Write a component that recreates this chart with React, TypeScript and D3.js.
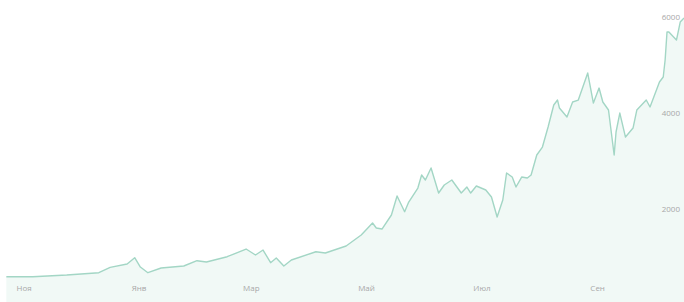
import React, { useRef, useEffect } from 'react';
import * as d3 from 'd3';

const dates: string[] = [
  '2016-10-29', '2016-11-12', '2016-11-30', '2016-12-17', '2016-12-23', '2017-01-01',
  '2017-01-05', '2017-01-08', '2017-01-12', '2017-01-19', '2017-01-31', '2017-02-07',
  '2017-02-12', '2017-02-23', '2017-03-05', '2017-03-10', '2017-03-14', '2017-03-18',
  '2017-03-21', '2017-03-25', '2017-03-29', '2017-04-11', '2017-04-16', '2017-04-27',
  '2017-05-05', '2017-05-11', '2017-05-13', '2017-05-16', '2017-05-21', '2017-05-24',
  '2017-05-28', '2017-05-30', '2017-06-04', '2017-06-06', '2017-06-08', '2017-06-11',
  '2017-06-15', '2017-06-18', '2017-06-22', '2017-06-27', '2017-06-30', '2017-07-02',
  '2017-07-05', '2017-07-10', '2017-07-13', '2017-07-16', '2017-07-19', '2017-07-21',
  '2017-07-24', '2017-07-26', '2017-07-29', '2017-08-01', '2017-08-03', '2017-08-06',
  '2017-08-09', '2017-08-12', '2017-08-15', '2017-08-17', '2017-08-18', '2017-08-22',
  '2017-08-25', '2017-08-28', '2017-09-02', '2017-09-05', '2017-09-08', '2017-09-10',
  '2017-09-13', '2017-09-16', '2017-09-17', '2017-09-19', '2017-09-22', '2017-09-26',
  '2017-09-28', '2017-10-03', '2017-10-05', '2017-10-10', '2017-10-12', '2017-10-13',
  '2017-10-14', '2017-10-15', '2017-10-19', '2017-10-21', '2017-10-23',
];

const prices: number[] = [
  590, 590, 625, 673, 785, 854,
  985, 791, 673, 771, 812, 923,
  896, 1006, 1166, 1041, 1145, 881,
  979, 812, 937, 1110, 1083, 1229,
  1458, 1708, 1604, 1583, 1875, 2270,
  1944, 2131, 2437, 2708, 2604, 2854,
  2333, 2500, 2604, 2333, 2458, 2333,
  2479, 2396, 2250, 1833, 2187, 2750,
  2666, 2458, 2666, 2646, 2708, 3125,
  3291, 3708, 4166, 4270, 4104, 3916,
  4229, 4270, 4833, 4208, 4520, 4229,
  4062, 3125, 3604, 3999, 3499, 3687,
  4062, 4270, 4125, 4645, 4750, 5104,
  5687, 5687, 5520, 5895, 5978,
];

const xTickDates: string[] = ['2016-11-01', '2017-01-01', '2017-03-01', '2017-05-01', '2017-07-01', '2017-09-01'];
const xTickLabels: string[] = ['Ноя', 'Янв', 'Мар', 'Май', 'Июл', 'Сен'];
const yTicks: number[] = [2000, 4000, 6000];

interface Point {
  date: Date;
  price: number;
}

const App: React.FC = () => {
  const svgRef = useRef<SVGSVGElement | null>(null);
  const width = 684;
  const height = 302;

  useEffect(() => {
    if (!svgRef.current) return;
    const parse = d3.timeParse('%Y-%m-%d');
    const data: Point[] = dates.map((d, i) => ({ date: parse(d)!, price: prices[i] }));

    const svg = d3.select(svgRef.current);
    svg.selectAll('*').remove();
    svg.style('background-color', 'white');

    const x = d3
      .scaleTime()
      .domain([parse('2016-11-01')!, parse('2017-10-23')!])
      .range([12, width]);
    const y = d3.scaleLinear().domain([0, 6000]).range([305, 17]);

    const area = d3
      .area<Point>()
      .x(d => x(d.date))
      .y0(height)
      .y1(d => y(d.price));
    const line = d3
      .line<Point>()
      .x(d => x(d.date))
      .y(d => y(d.price));

    svg.append('path').datum(data).attr('fill', '#f1f9f6').attr('d', area);
    svg
      .append('path')
      .datum(data)
      .attr('fill', 'none')
      .attr('stroke', '#a3d6c5')
      .attr('stroke-width', 1.4)
      .attr('stroke-linejoin', 'round')
      .attr('d', line);

    // month labels along the bottom
    const xAxis = svg
      .append('g')
      .attr('transform', `translate(0,${height - 14})`)
      .call(
        d3
          .axisBottom(x)
          .tickValues(xTickDates.map(d => parse(d)!))
          .tickSize(0)
          .tickFormat((_, i) => xTickLabels[i])
      );
    xAxis.select('.domain').remove();
    xAxis
      .selectAll('text')
      .attr('text-anchor', 'start')
      .attr('dx', 4)
      .attr('dy', 0)
      .attr('fill', '#a8a8a8')
      .style('font-family', '"Open Sans", sans-serif')
      .style('font-size', '8px');

    // value labels at the right edge
    const yAxis = svg
      .append('g')
      .attr('transform', `translate(${width - 4},0)`)
      .call(d3.axisLeft(y).tickValues(yTicks).tickSize(0).tickFormat(d3.format('d')));
    yAxis.select('.domain').remove();
    yAxis
      .selectAll('text')
      .attr('x', 0)
      .attr('fill', '#a8a8a8')
      .style('font-family', '"Open Sans", sans-serif')
      .style('font-size', '8px');
  }, []);

  return (
    <div style={{ position: 'absolute', left: 0, top: 0 }}>
      <svg ref={svgRef} width={width} height={height} style={{ display: 'block' }} />
    </div>
  );
};

export default App;
